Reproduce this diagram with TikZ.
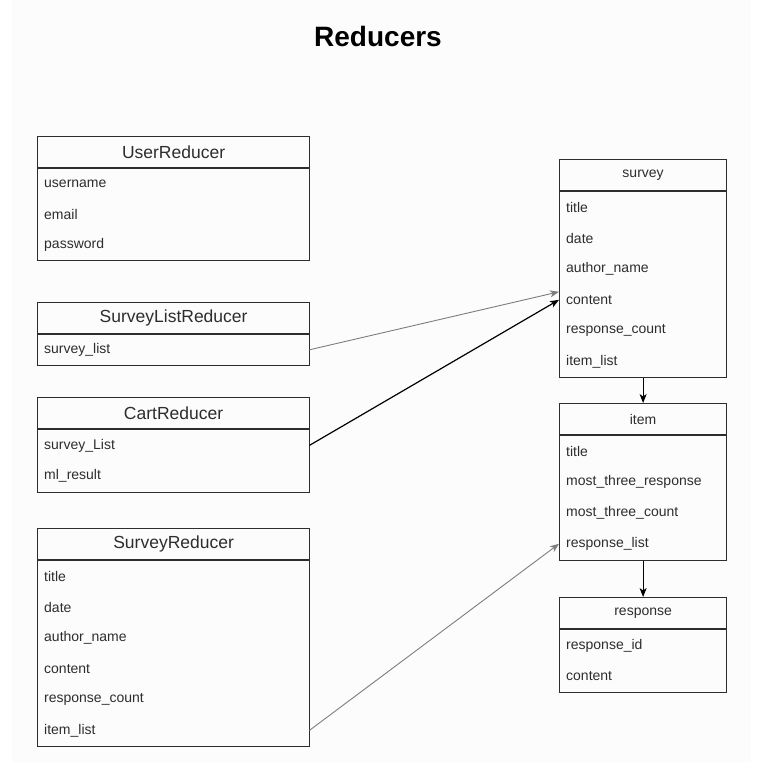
\documentclass[tikz,border=0pt]{standalone}
\usepackage{fontspec}
\setmainfont{Liberation Sans}
\usepackage{xcolor}
\usepackage{tikz}
\usetikzlibrary{arrows.meta, positioning, calc}
\definecolor{boxline}{RGB}{45,45,45}
\definecolor{paper}{RGB}{252,252,252}
\definecolor{linkgray}{RGB}{125,125,125}

\tikzset{
  hdr/.style={draw=boxline, line width=1.2pt, anchor=north west,
              minimum height=31, inner sep=0, text=boxline},
  bighdr/.style={hdr, font=\fontsize{17.5}{20}\selectfont},
  smallhdr/.style={hdr, font=\fontsize{14}{16}\selectfont},
  body/.style={draw=boxline, line width=1.2pt, anchor=north west, inner sep=0},
  row/.style={anchor=north west, minimum height=30.8, inner xsep=7,
              inner ysep=0, align=left, text=boxline,
              font=\fontsize{14}{16}\selectfont},
  link/.style={-{Stealth[length=9pt,width=7pt,inset=2.5pt]}, line width=0.9pt},
}

\begin{document}
\begin{tikzpicture}[x=1pt, y=-1pt]
  \useasboundingbox (0,0) rectangle (773,773);
  % light page background
  \fill[paper] (12,0) rectangle (751,762);

  % Title
  \node[font=\fontsize{28}{32}\selectfont\bfseries] (title) at (378,36) {Reducers};

  % UserReducer
  \node[bighdr, minimum width=272] (user) at (37,136) {UserReducer};
  \node[body, minimum width=272, minimum height=92] (user-b) at (user.south west) {};
  \foreach \f [count=\i] in {username, email, password}
    \node[row, text width=258] (user-\i) at ($(user.south west)+(0,{(\i-1)*30.3+0.2})$) {\f};

  % SurveyListReducer
  \node[bighdr, minimum width=272] (slist) at (37,302) {SurveyListReducer};
  \node[body, minimum width=272, minimum height=31] (slist-b) at (slist.south west) {};
  \foreach \f [count=\i] in {survey\_list}
    \node[row, text width=258] (slist-\i) at ($(slist.south west)+(0,{(\i-1)*30.8})$) {\f};

  % CartReducer
  \node[bighdr, minimum width=272] (cart) at (37,397) {CartReducer};
  \node[body, minimum width=272, minimum height=62.8] (cart-b) at (cart.south west) {};
  \foreach \f [count=\i] in {survey\_List, ml\_result}
    \node[row, text width=258] (cart-\i) at ($(cart.south west)+(0,{(\i-1)*30.8+0.6})$) {\f};

  % SurveyReducer
  \node[bighdr, minimum width=272] (sred) at (37,528) {SurveyReducer};
  \node[body, minimum width=272, minimum height=185.5] (sred-b) at (sred.south west) {};
  \foreach \f [count=\i] in {title, date, author\_name, content, response\_count, item\_list}
    \node[row, text width=258] (sred-\i) at ($(sred.south west)+(0,{(\i-1)*30.8+0.6})$) {\f};

  % survey
  \node[smallhdr, minimum width=167] (survey) at (559,159) {survey};
  \node[body, minimum width=167, minimum height=186] (survey-b) at (survey.south west) {};
  \foreach \f [count=\i] in {title, date, author\_name, content, response\_count, item\_list}
    \node[row, text width=153] (survey-\i) at ($(survey.south west)+(0,{(\i-1)*30.8+0.6})$) {\f};

  % item
  \node[smallhdr, minimum width=167] (item) at (559,403) {item};
  \node[body, minimum width=167, minimum height=124.4] (item-b) at (item.south west) {};
  \foreach \f [count=\i] in {title, most\_three\_response, most\_three\_count, response\_list}
    \node[row, text width=153] (item-\i) at ($(item.south west)+(0,{(\i-1)*30.8+0.6})$) {\f};

  % response
  \node[smallhdr, minimum width=167] (resp) at (559,597) {response};
  \node[body, minimum width=167, minimum height=62.8] (resp-b) at (resp.south west) {};
  \foreach \f [count=\i] in {response\_id, content}
    \node[row, text width=153] (resp-\i) at ($(resp.south west)+(0,{(\i-1)*30.8+0.6})$) {\f};

  % Connectors
  \draw[link, linkgray] (slist-1.east) -- ([yshift=8pt]survey-4.west);
  \draw[link, black, line width=1.2pt] (cart-1.east) -- (survey-4.west);
  \draw[link, linkgray] (sred-6.east) -- (item-4.west);
  \draw[link, black] (survey-b.south) -- (item.north);
  \draw[link, black] (item-b.south) -- (resp.north);
\end{tikzpicture}
\end{document}
